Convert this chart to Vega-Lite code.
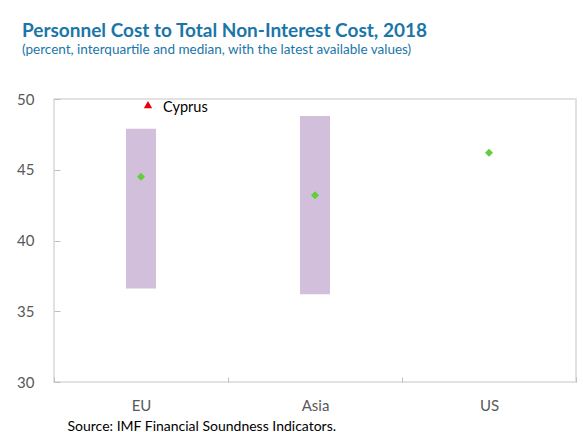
{
  "$schema": "https://vega.github.io/schema/vega-lite/v6.json",
  "width": 522,
  "height": 283,
  "autosize": "none",
  "padding": {"left": 54, "top": 99, "right": 7, "bottom": 50},
  "background": "white",
  "title": {
    "text": "Personnel Cost to Total Non-Interest Cost, 2018",
    "subtitle": "(percent, interquartile and median, with the latest available values)",
    "anchor": "start",
    "frame": "group",
    "dx": -32,
    "offset": 36,
    "font": "Lato",
    "fontSize": 19,
    "fontWeight": "bold",
    "color": "#1a76a8",
    "subtitleFont": "Lato",
    "subtitleFontSize": 13.5,
    "subtitleColor": "#1a76a8",
    "subtitlePadding": 2
  },
  "config": {
    "view": {"stroke": "#d9d9d9", "strokeWidth": 1.5},
    "font": "Lato"
  },
  "data": {
    "values": [
      {"region": "EU", "q1": 36.6, "q3": 47.9, "median": 44.5},
      {"region": "Asia", "q1": 36.2, "q3": 48.8, "median": 43.2},
      {"region": "US", "q1": null, "q3": null, "median": 46.2}
    ]
  },
  "encoding": {
    "x": {
      "field": "region",
      "type": "nominal",
      "sort": ["EU", "Asia", "US"],
      "scale": {"paddingInner": 0, "paddingOuter": 0},
      "axis": {
        "title": "Source: IMF Financial Soundness Indicators.",
        "titleFont": "Lato",
        "titleFontSize": 14,
        "titleFontWeight": "normal",
        "titleColor": "#000000",
        "titleAnchor": "start",
        "titleAlign": "left",
        "titleX": 13,
        "titleY": 48,
        "titleBaseline": "alphabetic",
        "labelAngle": 0,
        "labelFontSize": 15,
        "labelColor": "#595959",
        "labelPadding": 21,
        "domain": false,
        "ticks": true,
        "tickSize": -5,
        "tickColor": "#bfbfbf",
        "tickBand": "extent",
        "grid": false
      }
    }
  },
  "layer": [
    {
      "mark": {"type": "bar", "size": 30, "color": "#d1bfdb"},
      "encoding": {
        "y": {
          "field": "q1",
          "type": "quantitative",
          "scale": {"domain": [30, 50]},
          "axis": {
            "title": null,
            "values": [30, 35, 40, 45, 50],
            "labelFontSize": 15,
            "labelColor": "#595959",
            "labelPadding": 26,
            "domain": false,
            "tickSize": -6,
            "tickColor": "#bfbfbf",
            "grid": false
          }
        },
        "y2": {"field": "q3"}
      }
    },
    {
      "mark": {"type": "point", "shape": "diamond", "filled": true, "color": "#5fcf3a", "size": 65, "opacity": 1},
      "encoding": {
        "y": {"field": "median", "type": "quantitative"}
      }
    },
    {
      "data": {"values": [{"region": "EU", "value": 49.6, "label": "Cyprus"}]},
      "mark": {"type": "point", "shape": "triangle-up", "filled": true, "color": "#e8000b", "size": 70, "opacity": 1, "xOffset": 7},
      "encoding": {
        "y": {"field": "value", "type": "quantitative"}
      }
    },
    {
      "data": {"values": [{"region": "EU", "value": 49.6, "label": "Cyprus"}]},
      "mark": {"type": "text", "align": "left", "baseline": "middle", "dx": 22, "dy": 3, "fontSize": 14.5, "color": "#000000", "font": "Lato"},
      "encoding": {
        "y": {"field": "value", "type": "quantitative"},
        "text": {"field": "label"}
      }
    }
  ]
}
